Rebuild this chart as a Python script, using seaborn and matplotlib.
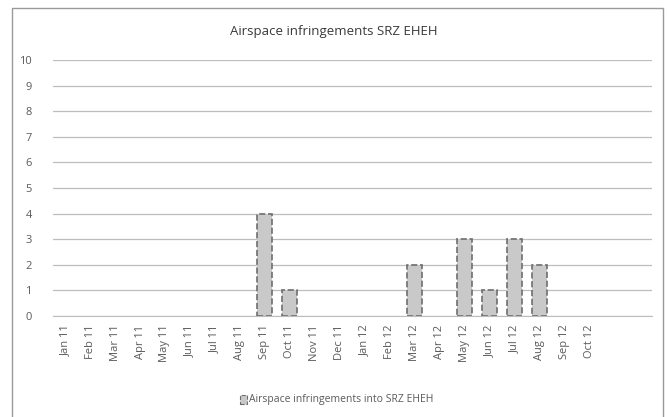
import matplotlib
matplotlib.use("Agg")
import matplotlib.pyplot as plt
import seaborn as sns
import pandas as pd
from matplotlib.patches import Rectangle

months = ["Jan 11", "Feb 11", "Mar 11", "Apr 11", "May 11", "Jun 11", "Jul 11", "Aug 11",
          "Sep 11", "Oct 11", "Nov 11", "Dec 11", "Jan 12", "Feb 12", "Mar 12", "Apr 12",
          "May 12", "Jun 12", "Jul 12", "Aug 12", "Sep 12", "Oct 12", " ", "  "]
infringements = [0, 0, 0, 0, 0, 0, 0, 0, 4, 1, 0, 0, 0, 0, 2, 0, 3, 1, 3, 2, 0, 0, 0, 0]

df = pd.DataFrame({"Month": months, "Count": infringements})

sns.set_style("white")
plt.rcParams["font.family"] = ["Open Sans", "DejaVu Sans"]
txt = "#5a5a5a"

fig = plt.figure(figsize=(6.67, 4.17), dpi=100)
ax = fig.add_axes([0.079, 0.242, 0.898, 0.614])

sns.barplot(data=df, x="Month", y="Count", ax=ax, color="#c9c9c9", width=0.6,
            edgecolor="#6e6e6e", linewidth=1.2, linestyle="--", zorder=3)
# no outline for empty months
for p in ax.patches:
    if p.get_height() == 0:
        p.set_visible(False)

ax.set_ylim(0, 10)
ax.set_yticks(range(0, 11))
ax.set_xlim(-0.5, len(months) - 0.5)
ax.yaxis.grid(True, color="#bdbdbd", linewidth=0.9, zorder=0)
ax.set_axisbelow(True)
for s in ["top", "right", "left"]:
    ax.spines[s].set_visible(False)
ax.spines["bottom"].set_color("#bdbdbd")
ax.set_xlabel("")
ax.set_ylabel("")
ax.tick_params(axis="y", length=0, labelsize=8, labelcolor=txt, pad=15)
ax.tick_params(axis="x", length=0, labelsize=8, labelcolor=txt, rotation=90, pad=6)

fig.text(0.5, 0.925, "Airspace infringements SRZ EHEH", ha="center", va="center",
         fontsize=9.5, color="#3a3a3a")

# legend
fig.patches.append(Rectangle((0.36, 0.032), 0.01, 0.02, transform=fig.transFigure,
                             facecolor="#c9c9c9", edgecolor="#6e6e6e", linewidth=0.8,
                             linestyle="--"))
fig.text(0.373, 0.042, "Airspace infringements into SRZ EHEH", ha="left", va="center",
         fontsize=7.5, color=txt)

# chart frame
fig.patches.append(Rectangle((0.018, -0.02), 0.976, 1.0, transform=fig.transFigure,
                             fill=False, edgecolor="#9a9a9a", linewidth=1.0))

fig.savefig("out.png", dpi=100)
